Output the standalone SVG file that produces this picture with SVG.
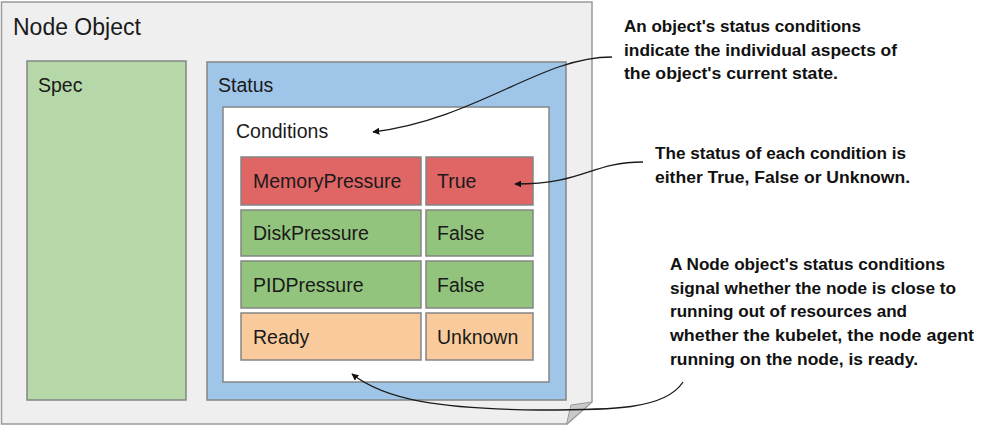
<svg xmlns="http://www.w3.org/2000/svg" width="993" height="435" viewBox="0 0 993 435">
<defs>
<style>
.box{stroke:#858585;stroke-width:1.5}
.lbl{font-family:"Liberation Sans",Arial,sans-serif;font-size:19.5px;fill:#1a1a1a}
.ann{font-family:"Liberation Sans",Arial,sans-serif;font-weight:bold;font-size:16.5px;fill:#111}
.conn{fill:none;stroke:#1a1a1a;stroke-width:1.3}
</style>
<marker id="ah" viewBox="0 0 10 10" refX="9" refY="5" markerWidth="7" markerHeight="7" orient="auto" markerUnits="userSpaceOnUse">
<path d="M0,0 L10,5 L0,10 z" fill="#111"/>
</marker>
</defs>
<rect width="993" height="435" fill="#fff"/>
<g id="node-object">
<path d="M1.5,2 H592 V402 L567,424 H1.5 Z" fill="#efefef" stroke="#9a9a9a" stroke-width="1.5"/>
<path d="M592,402 L571,405 L566.5,424 Z" fill="#c9c9c9" stroke="#9a9a9a" stroke-width="1"/>
<text x="13" y="35" class="lbl" style="font-size:23px">Node Object</text>
</g>
<g id="spec">
<rect x="27" y="61" width="159" height="339" fill="#b6d7a8" class="box"/>
<text x="38" y="92" class="lbl">Spec</text>
</g>
<g id="status">
<rect x="207" y="62" width="359" height="338" fill="#9fc5e8" class="box"/>
<text x="218" y="92" class="lbl">Status</text>
</g>
<g id="conditions">
<rect x="223" y="107" width="326" height="275" fill="#fff" class="box"/>
<text x="236" y="138" class="lbl">Conditions</text>
</g>
<g id="memory-pressure">
<rect x="241" y="157" width="180" height="48" fill="#e06666" class="box"/>
<text x="253" y="188" class="lbl">MemoryPressure</text>
</g>
<g id="memory-pressure-value">
<rect x="426" y="157" width="107" height="48" fill="#e06666" class="box"/>
<text x="437" y="188" class="lbl">True</text>
</g>
<g id="disk-pressure">
<rect x="241" y="210" width="180" height="46" fill="#93c47d" class="box"/>
<text x="253" y="240" class="lbl">DiskPressure</text>
</g>
<g id="disk-pressure-value">
<rect x="426" y="210" width="107" height="46" fill="#93c47d" class="box"/>
<text x="437" y="240" class="lbl">False</text>
</g>
<g id="pid-pressure">
<rect x="241" y="261" width="180" height="47" fill="#93c47d" class="box"/>
<text x="253" y="292" class="lbl">PIDPressure</text>
</g>
<g id="pid-pressure-value">
<rect x="426" y="261" width="107" height="47" fill="#93c47d" class="box"/>
<text x="437" y="292" class="lbl">False</text>
</g>
<g id="ready">
<rect x="241" y="313" width="180" height="47" fill="#f9cb9c" class="box"/>
<text x="253" y="344" class="lbl">Ready</text>
</g>
<g id="ready-value">
<rect x="426" y="313" width="107" height="47" fill="#f9cb9c" class="box"/>
<text x="437" y="344" class="lbl">Unknown</text>
</g>
<g id="note-conditions">
<text class="ann" x="624" y="32" textLength="237" lengthAdjust="spacingAndGlyphs">An object's status conditions</text>
<text class="ann" x="624" y="56" textLength="273" lengthAdjust="spacingAndGlyphs">indicate the individual aspects of</text>
<text class="ann" x="624" y="79" textLength="214" lengthAdjust="spacingAndGlyphs">the object's current state.</text>
</g>
<g id="note-status">
<text class="ann" x="655" y="159" textLength="251" lengthAdjust="spacingAndGlyphs">The status of each condition is</text>
<text class="ann" x="655" y="183" textLength="255" lengthAdjust="spacingAndGlyphs">either True, False or Unknown.</text>
</g>
<g id="note-node">
<text class="ann" x="670" y="270" textLength="275" lengthAdjust="spacingAndGlyphs">A Node object's status conditions</text>
<text class="ann" x="670" y="294" textLength="286" lengthAdjust="spacingAndGlyphs">signal whether the node is close to</text>
<text class="ann" x="670" y="317" textLength="237" lengthAdjust="spacingAndGlyphs">running out of resources and</text>
<text class="ann" x="670" y="341" textLength="304" lengthAdjust="spacingAndGlyphs">whether the kubelet, the node agent</text>
<text class="ann" x="670" y="365" textLength="248" lengthAdjust="spacingAndGlyphs">running on the node, is ready.</text>
</g>
<g id="connectors">
<path class="conn" d="M612,57 C540,57 480,118 373,132" marker-end="url(#ah)"/>
<path class="conn" d="M643,162 C590,162 585,184 515,184" marker-end="url(#ah)"/>
<path class="conn" d="M683,382 C665,410 610,410 540,410 C440,409 385,400 352,374" marker-end="url(#ah)"/>
</g>
</svg>
